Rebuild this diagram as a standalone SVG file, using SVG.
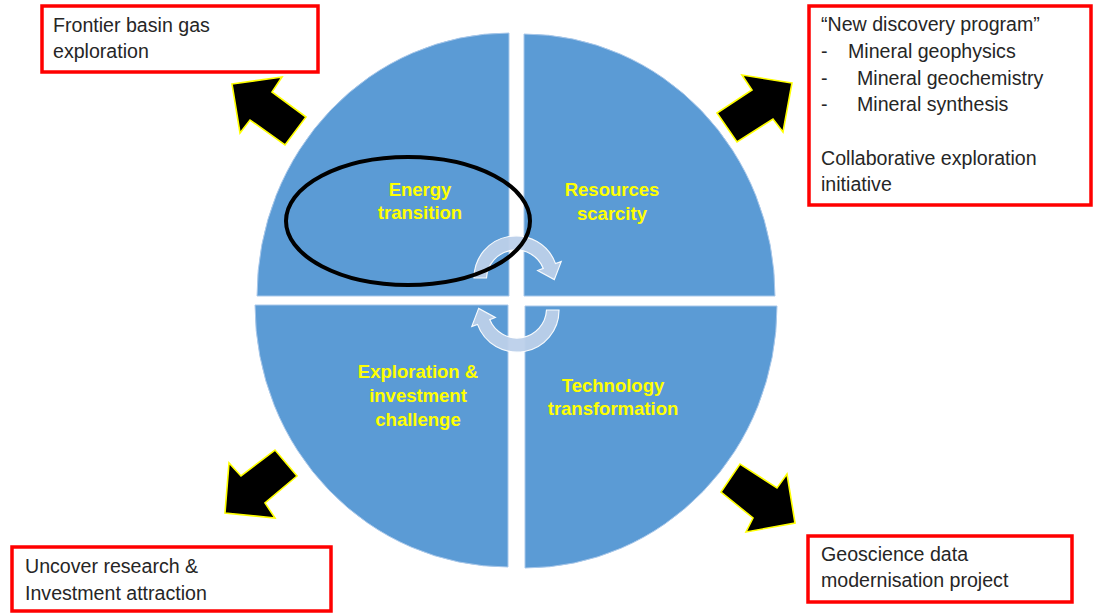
<svg xmlns="http://www.w3.org/2000/svg" width="1094" height="613" viewBox="0 0 1094 613">
<style>
.q{fill:#5B9BD5;stroke:#A9C8EA;stroke-width:1}
.lbl{font-family:"Liberation Sans",Arial,sans-serif;font-weight:bold;font-size:18.5px;fill:#FFFF00;text-anchor:middle}
.box{fill:#FFFFFF;stroke:#FF0000;stroke-width:3.5}
.bt{font-family:"Liberation Sans",Arial,sans-serif;font-size:19.6px;fill:#262626}
.ba{fill:#000000;stroke:#FFFF00;stroke-width:1.6;stroke-linejoin:miter}
.ca{fill:#BCD0EA;stroke:#FFFFFF;stroke-width:1.2;opacity:0.95}
</style>
<rect width="1094" height="613" fill="#FFFFFF"/>
<g id="quadrant-energy">
<path class="q" d="M509 296 L257 296 A252 263 0 0 1 509 33 Z"/>
<text class="lbl" x="420" y="196">Energy</text>
<text class="lbl" x="420" y="219">transition</text>
</g>
<g id="quadrant-resources">
<path class="q" d="M524 296 L524 34 A251 262 0 0 1 775 296 Z"/>
<text class="lbl" x="612" y="196">Resources</text>
<text class="lbl" x="612" y="220">scarcity</text>
</g>
<g id="quadrant-technology">
<path class="q" d="M525 306 L777 306 A252 262 0 0 1 525 568 Z"/>
<text class="lbl" x="613" y="392">Technology</text>
<text class="lbl" x="613" y="415">transformation</text>
</g>
<g id="quadrant-exploration">
<path class="q" d="M508 305 L508 567 A253 262 0 0 1 255 305 Z"/>
<text class="lbl" x="418" y="378">Exploration &amp;</text>
<text class="lbl" x="418" y="402">investment</text>
<text class="lbl" x="418" y="426">challenge</text>
</g>
<g id="cycle-arrows">
<path class="ca" d="M474 278 A42 42 0 0 1 555.5 263.6 L561.2 261.6 L554.3 279.6 L537.7 270.5 L543.3 268.4 A29.5 29.5 0 0 0 486.5 278 Z"/>
<path class="ca" transform="rotate(180 516.5 294)" d="M474 278 A42 42 0 0 1 555.5 263.6 L561.2 261.6 L554.3 279.6 L537.7 270.5 L543.3 268.4 A29.5 29.5 0 0 0 486.5 278 Z"/>
</g>
<g id="highlight-ellipse">
<ellipse cx="408" cy="221" rx="122" ry="64" fill="none" stroke="#000000" stroke-width="4"/>
</g>
<g id="connectors">
<polygon class="ba" points="232,84 282,77 272,92 306,117 285,145 250,120 240,133"/>
<polygon class="ba" points="792,83 742,75 752,90 717,113 737,142 773,119 783,132"/>
<polygon class="ba" points="225,513 229,463 241,476 275,450 297,476 265,503 275,518"/>
<polygon class="ba" points="795,523 787,474 777,488 740,464 721,492 753,518 746,532"/>
</g>
<g id="box-frontier">
<rect class="box" x="42" y="6" width="276" height="66"/>
<text class="bt" x="53" y="32">Frontier basin gas</text>
<text class="bt" x="53" y="58">exploration</text>
</g>
<g id="box-discovery">
<rect class="box" x="809" y="6" width="282" height="199"/>
<text class="bt" x="821" y="31">“New discovery program”</text>
<text class="bt" x="821" y="58">-</text>
<text class="bt" x="848" y="58">Mineral geophysics</text>
<text class="bt" x="821" y="85">-</text>
<text class="bt" x="857" y="85">Mineral geochemistry</text>
<text class="bt" x="821" y="111">-</text>
<text class="bt" x="857" y="111">Mineral synthesis</text>
<text class="bt" x="821" y="165">Collaborative exploration</text>
<text class="bt" x="821" y="191">initiative</text>
</g>
<g id="box-uncover">
<rect class="box" x="12" y="547" width="319" height="64"/>
<text class="bt" x="25" y="573">Uncover research &amp;</text>
<text class="bt" x="25" y="600">Investment attraction</text>
</g>
<g id="box-geoscience">
<rect class="box" x="808" y="536" width="264" height="66"/>
<text class="bt" x="821" y="561">Geoscience data</text>
<text class="bt" x="821" y="587">modernisation project</text>
</g>
</svg>
